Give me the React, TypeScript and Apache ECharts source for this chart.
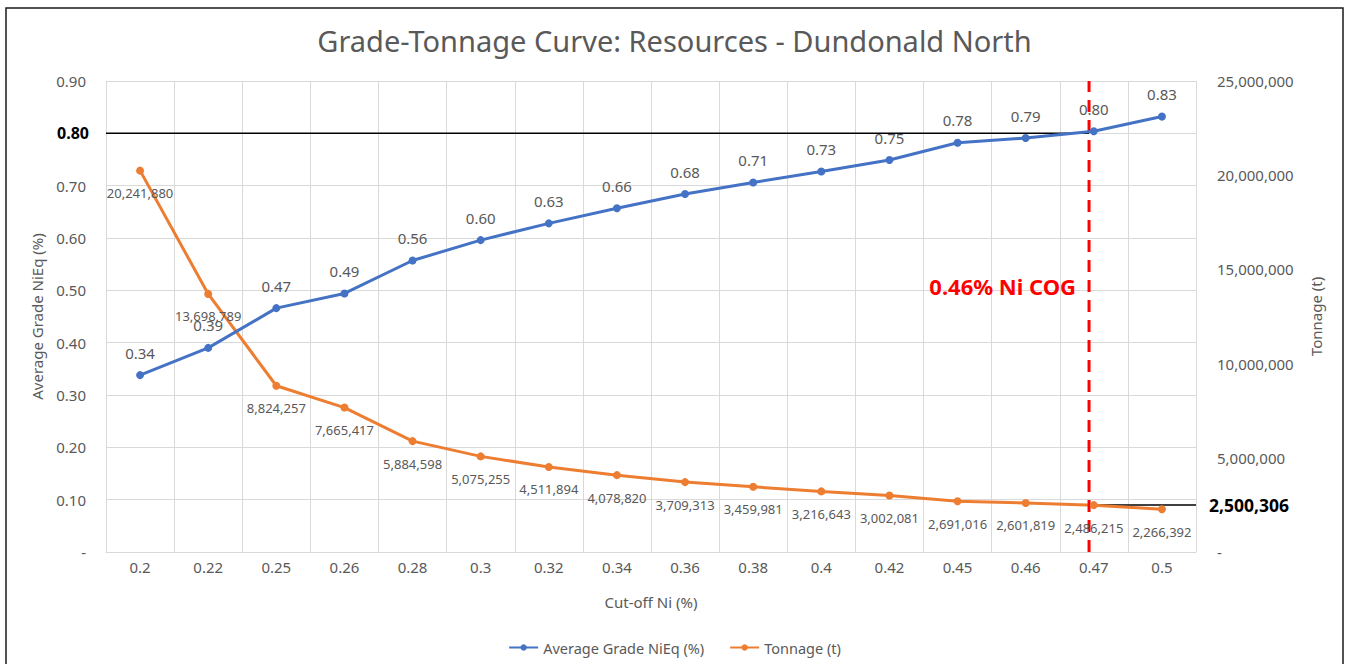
import React, { useEffect, useRef } from "react";
import * as echarts from "echarts";

const categories = ["0.2", "0.22", "0.25", "0.26", "0.28", "0.3", "0.32", "0.34", "0.36", "0.38", "0.4", "0.42", "0.45", "0.46", "0.47", "0.5"];
const grade = [0.338, 0.39, 0.466, 0.494, 0.557, 0.596, 0.628, 0.657, 0.684, 0.706, 0.727, 0.749, 0.782, 0.791, 0.804, 0.832];
const tonnage = [20241880, 13698789, 8824257, 7665417, 5884598, 5075255, 4511894, 4078820, 3709313, 3459981, 3216643, 3002081, 2691016, 2601819, 2486215, 2266392];
const gradeRef = 0.8;
const tonnageRef = 2500306;
const cogPosition = 14.43; // position along categories (0..16 edges)
const cogLabel = "0.46% Ni COG";
const titleText = "Grade-Tonnage Curve: Resources - Dundonald North";

const FONT = "Noto Sans";
const GRAY = "#595959";
const GRID = "#d9d9d9";

export default function App() {
  const ref = useRef<HTMLDivElement>(null);
  useEffect(() => {
    if (!ref.current) return;
    const chart = echarts.init(ref.current, undefined, { renderer: "svg" });
    const option: any = {
      animation: false,
      textStyle: { fontFamily: FONT },
      title: {
        text: titleText,
        left: "center",
        top: 26,
        padding: 0,
        textStyle: { fontFamily: FONT, fontSize: 29, fontWeight: "normal", color: GRAY },
      },
      legend: {
        data: ["Average Grade NiEq (%)", "Tonnage (t)"],
        left: "center",
        top: 635,
        itemWidth: 29,
        itemHeight: 8,
        itemGap: 25,
        textStyle: { fontFamily: FONT, fontSize: 14.5, color: GRAY },
      },
      grid: { left: 106, right: 153, top: 81, bottom: 112, containLabel: false },
      xAxis: [
        {
          type: "category",
          data: categories,
          boundaryGap: true,
          name: "Cut-off Ni (%)",
          nameLocation: "middle",
          nameGap: 42,
          nameTextStyle: { fontFamily: FONT, fontSize: 15, color: GRAY },
          axisLine: { lineStyle: { color: GRID, width: 1 } },
          axisTick: { show: false },
          axisLabel: { fontFamily: FONT, fontSize: 15, color: GRAY, margin: 7 },
          splitLine: { show: true, lineStyle: { color: GRID, width: 1 } },
        },
        { type: "value", min: 0, max: 16, show: false },
      ],
      yAxis: [
        {
          type: "value",
          min: 0,
          max: 0.9,
          interval: 0.1,
          name: "Average Grade NiEq (%)",
          nameLocation: "middle",
          nameGap: 62,
          nameRotate: 90,
          nameTextStyle: { fontFamily: FONT, fontSize: 15, color: GRAY },
          axisLine: { show: false },
          axisTick: { show: false },
          axisLabel: {
            fontFamily: FONT,
            fontSize: 15,
            color: GRAY,
            margin: 20,
            formatter: (v: number) =>
              v === 0 ? "-" : Math.abs(v - gradeRef) < 1e-9 ? "" : v.toFixed(2),
          },
          splitLine: { show: true, lineStyle: { color: GRID, width: 1 } },
        },
        {
          type: "value",
          min: 0,
          max: 25000000,
          interval: 5000000,
          name: "Tonnage (t)",
          nameLocation: "middle",
          nameGap: 112,
          nameRotate: 90,
          nameTextStyle: { fontFamily: FONT, fontSize: 15, color: GRAY },
          axisLine: { show: false },
          axisTick: { show: false },
          axisLabel: {
            fontFamily: FONT,
            fontSize: 15,
            color: GRAY,
            margin: 21,
            formatter: (v: number) => (v === 0 ? "-" : v.toLocaleString("en-US")),
          },
          splitLine: { show: false },
        },
      ],
      series: [
        {
          name: "Average Grade NiEq (%)",
          type: "line",
          xAxisIndex: 0,
          yAxisIndex: 0,
          data: grade,
          symbol: "circle",
          symbolSize: 8,
          color: "#4472c4",
          lineStyle: { width: 3, color: "#4472c4" },
          label: {
            show: true,
            position: "top",
            distance: 11,
            fontFamily: FONT,
            fontSize: 15,
            color: GRAY,
            formatter: (p: any) => Number(p.value).toFixed(2),
          },
          z: 5,
        },
        {
          name: "Tonnage (t)",
          type: "line",
          xAxisIndex: 0,
          yAxisIndex: 1,
          data: tonnage,
          symbol: "circle",
          symbolSize: 8,
          color: "#ed7d31",
          lineStyle: { width: 3, color: "#ed7d31" },
          label: {
            show: true,
            position: "bottom",
            distance: 12,
            fontFamily: FONT,
            fontSize: 13,
            color: GRAY,
            formatter: (p: any) => Number(p.value).toLocaleString("en-US"),
          },
          z: 4,
        },
        {
          name: "gradeRef",
          type: "line",
          xAxisIndex: 1,
          yAxisIndex: 0,
          symbol: "none",
          lineStyle: { width: 1.5, color: "#000" },
          data: [
            {
              value: [0, gradeRef],
              symbol: "circle",
              symbolSize: 0.1,
              label: {
                show: true,
                position: "left",
                distance: 17,
                fontFamily: FONT,
                fontSize: 16,
                fontWeight: "bold",
                color: "#000",
                formatter: gradeRef.toFixed(2),
              },
            },
            [cogPosition, gradeRef],
          ],
          z: 3,
          silent: true,
        },
        {
          name: "tonnageRef",
          type: "line",
          xAxisIndex: 1,
          yAxisIndex: 1,
          symbol: "none",
          lineStyle: { width: 1.5, color: "#000" },
          data: [
            [cogPosition, tonnageRef],
            {
              value: [16, tonnageRef],
              symbol: "circle",
              symbolSize: 0.1,
              label: {
                show: true,
                position: "right",
                distance: 13,
                fontFamily: FONT,
                fontSize: 17.5,
                fontWeight: "bold",
                color: "#000",
                formatter: tonnageRef.toLocaleString("en-US"),
              },
            },
          ],
          z: 3,
          silent: true,
        },
        {
          name: "cog",
          type: "line",
          xAxisIndex: 1,
          yAxisIndex: 0,
          symbol: "none",
          lineStyle: { width: 3, color: "#ff0000", type: [12, 8] },
          data: [
            [cogPosition, 0],
            [cogPosition, 0.9],
          ],
          z: 4,
          silent: true,
        },
      ],
      graphic: [
        {
          type: "rect",
          shape: { x: 6, y: 8, width: 1337, height: 700 },
          style: { fill: "none", stroke: "#1a1a1a", lineWidth: 1.5 },
          silent: true,
        },
        {
          type: "text",
          x: 1076,
          y: 286,
          style: {
            text: cogLabel,
            align: "right",
            verticalAlign: "middle",
            fontFamily: FONT,
            fontSize: 22,
            fontWeight: "bold",
            fill: "#ff0000",
          },
          z: 10,
        },
      ],
    };
    chart.setOption(option);
    return () => chart.dispose();
  }, []);
  return <div ref={ref} style={{ position: "absolute", left: 0, top: 0, width: 1349, height: 664 }} />;
}
